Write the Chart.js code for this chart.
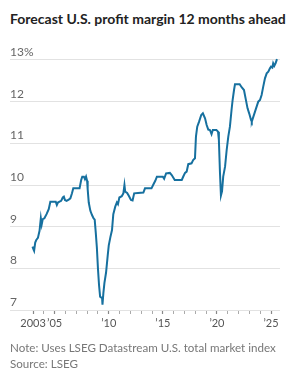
<!DOCTYPE html>
<html lang="en">
<head>
<meta charset="UTF-8">
<title>Forecast U.S. profit margin 12 months ahead</title>
<script src="https://cdn.jsdelivr.net/npm/chart.js"></script>
<style>
  html, body { margin: 0; padding: 0; background: #fff; }
  #wrap { position: relative; width: 300px; height: 384px; overflow: hidden; }
  #chart { position: absolute; left: 0; top: 0; }
  .title { position: absolute; left: 10px; top: 10px; font: 700 14px Lato, sans-serif; color: #222; white-space: nowrap; }
  .note { position: absolute; left: 10px; top: 340px; font: 400 11.6px Lato, sans-serif; color: #777; line-height: 16px; white-space: nowrap; }
</style>
</head>
<body>
<div id="wrap">
  <div class="title" id="title">Forecast U.S. profit margin 12 months ahead</div>
  <canvas id="chart" width="300" height="384"></canvas>
  <div class="note">Note: Uses LSEG Datastream U.S. total market index<br>Source: LSEG</div>
</div>
<script>
// decimal years and forecast margin (%)
const years = [
  2002.95, 2003.05, 2003.1, 2003.2, 2003.3, 2003.45, 2003.6, 2003.72, 2003.8, 2003.9,
  2004.05, 2004.25, 2004.45, 2004.6, 2004.75, 2004.95, 2005.1, 2005.2, 2005.3, 2005.45,
  2005.6, 2005.75, 2005.85, 2005.95, 2006.1, 2006.3, 2006.45, 2006.6, 2006.72, 2006.9,
  2007.1, 2007.3, 2007.45, 2007.55, 2007.7, 2007.8, 2007.9, 2008.0, 2008.05, 2008.15,
  2008.3, 2008.45, 2008.6, 2008.7, 2008.8, 2008.9, 2009.0, 2009.1, 2009.2, 2009.3,
  2009.38, 2009.42, 2009.5, 2009.6, 2009.75, 2009.9, 2010.0, 2010.15, 2010.3, 2010.42,
  2010.6, 2010.75, 2010.85, 2010.98, 2011.2, 2011.35, 2011.45, 2011.52, 2011.7, 2011.85,
  2012.05, 2012.2, 2012.35, 2012.7, 2013.2, 2013.35, 2013.95, 2014.1, 2014.3, 2014.45,
  2015.0, 2015.12, 2015.3, 2015.65, 2015.82, 2016.1, 2016.75, 2016.9, 2017.05, 2017.2,
  2017.35, 2017.65, 2017.8, 2017.97, 2018.06, 2018.18, 2018.35, 2018.55, 2018.7, 2018.9,
  2019.05, 2019.2, 2019.35, 2019.5, 2019.62, 2019.95, 2020.1, 2020.18, 2020.28, 2020.37,
  2020.47, 2020.58, 2020.75, 2020.9, 2021.05, 2021.2, 2021.35, 2021.45, 2021.58, 2021.67,
  2022.1, 2022.3, 2022.5, 2022.65, 2022.83, 2022.98, 2023.15, 2023.22, 2023.37, 2023.52,
  2023.67, 2023.82, 2023.98, 2024.13, 2024.28, 2024.44, 2024.6, 2024.75, 2024.9, 2025.0,
  2025.12, 2025.2, 2025.3, 2025.42, 2025.55
];
const margins = [
  8.52, 8.45, 8.42, 8.62, 8.68, 8.73, 8.9, 9.2, 9.05, 9.18,
  9.2, 9.3, 9.42, 9.6, 9.6, 9.6, 9.6, 9.52, 9.58, 9.6,
  9.62, 9.7, 9.72, 9.64, 9.62, 9.65, 9.68, 9.8, 9.92, 9.92,
  9.92, 9.92, 10.12, 10.2, 10.2, 10.14, 10.2, 10.1, 9.9, 9.58,
  9.38, 9.28, 9.2, 9.17, 8.85, 8.5, 8.0, 7.6, 7.32, 7.3,
  7.3, 7.13, 7.4, 7.65, 7.9, 8.3, 8.55, 8.75, 8.92, 9.3,
  9.48, 9.58, 9.54, 9.7, 9.73, 9.8, 10.0, 9.84, 9.81, 9.74,
  9.64, 9.63, 9.8, 9.81, 9.82, 9.92, 9.92, 10.0, 10.1, 10.2,
  10.2, 10.15, 10.28, 10.29, 10.24, 10.12, 10.12, 10.21, 10.29, 10.32,
  10.5, 10.52, 10.6, 10.64, 11.16, 11.4, 11.52, 11.68, 11.72, 11.6,
  11.44, 11.33, 11.32, 11.22, 11.32, 11.32, 11.28, 11.08, 10.3, 9.75,
  9.85, 10.2, 10.44, 10.84, 11.16, 11.4, 11.8, 12.04, 12.28, 12.42,
  12.42, 12.34, 12.28, 12.08, 11.84, 11.72, 11.56, 11.52, 11.64, 11.76,
  11.88, 12.0, 12.04, 12.16, 12.36, 12.56, 12.68, 12.72, 12.8, 12.84,
  12.82, 12.92, 12.86, 12.92, 13.02
];
const yTicks = [7, 8, 9, 10, 11, 12, 13];
const xTickYears = [2003, 2004, 2005, 2006, 2007, 2008, 2009, 2010, 2011, 2012, 2013, 2014,
  2015, 2016, 2017, 2018, 2019, 2020, 2021, 2022, 2023, 2024, 2025];
const xLabels = { 2003: '2003', 2005: '’05', 2010: '’10', 2015: '’15', 2020: '’20', 2025: '’25' };

const points = years.map((x, i) => ({ x: x, y: margins[i] }));

new Chart(document.getElementById('chart'), {
  type: 'line',
  data: {
    datasets: [{
      data: points,
      borderColor: '#16709f',
      borderWidth: 2,
      pointRadius: 0,
      tension: 0,
      fill: false
    }]
  },
  options: {
    responsive: false,
    animation: false,
    layout: { padding: { left: 10, right: 20, top: 55, bottom: 44 } },
    plugins: { legend: { display: false }, tooltip: { enabled: false } },
    scales: {
      x: {
        type: 'linear',
        min: 2000.87,
        max: 2025.83,
        afterBuildTicks: s => { s.ticks = xTickYears.map(v => ({ value: v })); },
        afterFit: s => { s.height = 30; },
        border: { display: false },
        grid: {
          drawOnChartArea: false,
          drawTicks: true,
          tickLength: 4,
          tickColor: ctx => xLabels[ctx.tick && ctx.tick.value] ? '#888' : '#aaa',
          tickWidth: ctx => xLabels[ctx.tick && ctx.tick.value] ? 1.2 : 1
        },
        ticks: {
          autoSkip: false,
          maxRotation: 0,
          padding: 3,
          color: '#555',
          font: { family: 'Lato', size: 11 },
          callback: v => xLabels[v] || ''
        }
      },
      y: {
        min: 7,
        max: 13.12,
        afterBuildTicks: s => { s.ticks = yTicks.map(v => ({ value: v })); },
        afterFit: s => { s.width = 0; },
        border: { display: false },
        grid: { color: '#e2e2e2', lineWidth: 1, drawTicks: false },
        ticks: {
          mirror: true,
          padding: 0,
          labelOffset: -8,
          color: '#666',
          font: { family: 'Lato', size: 12 },
          callback: v => v === 13 ? '13%' : String(v)
        }
      }
    }
  }
});
</script>
</body>
</html>
